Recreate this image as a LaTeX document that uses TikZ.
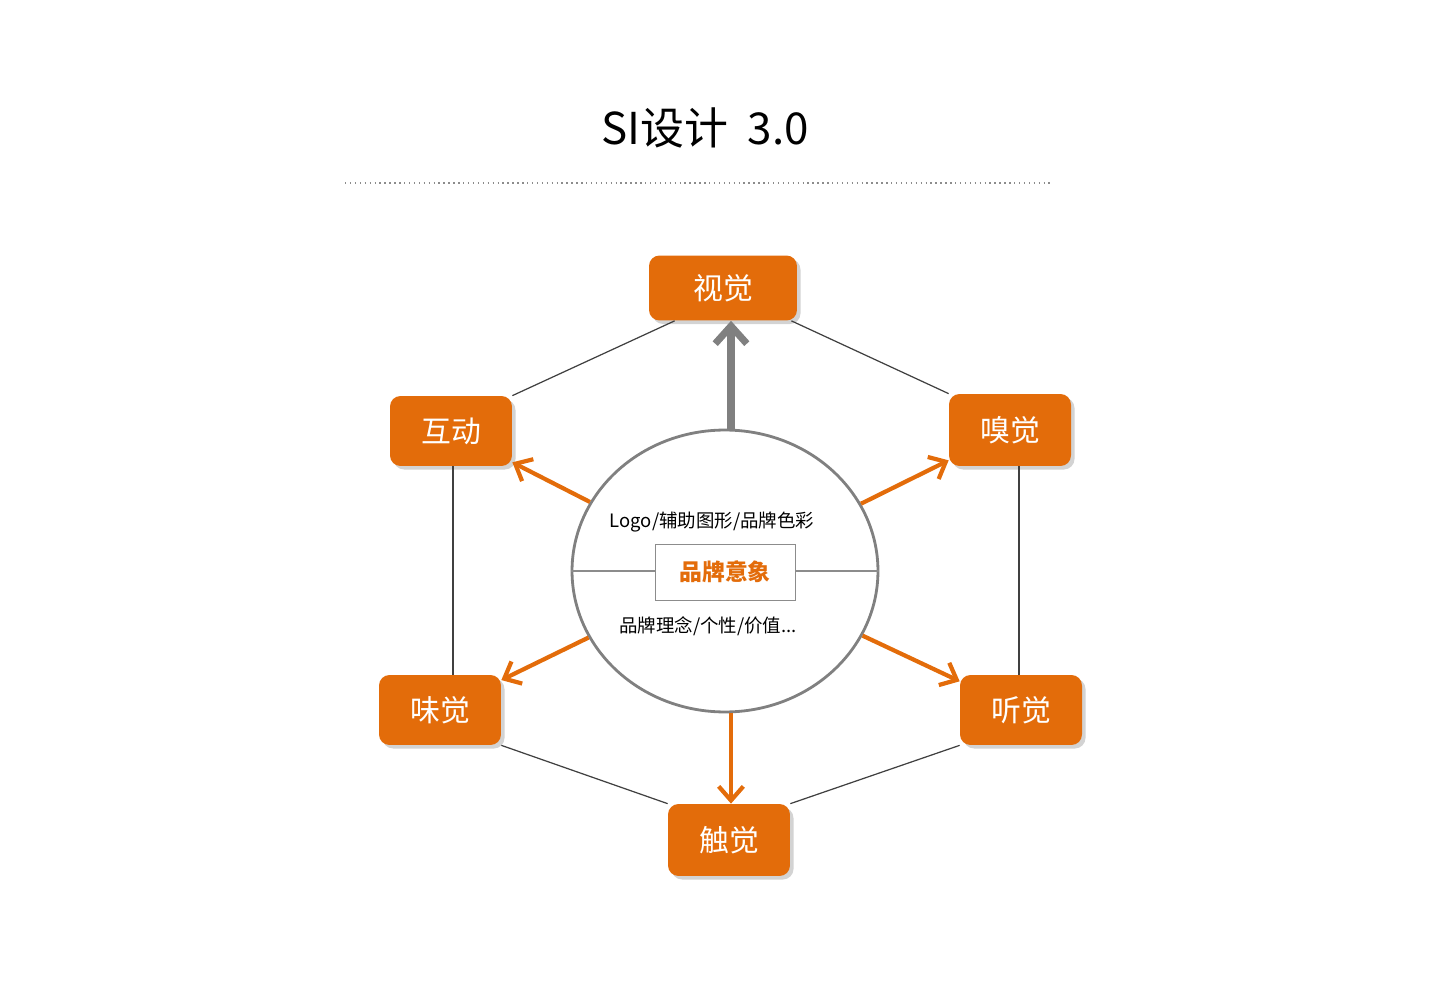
\documentclass[tikz,border=0pt]{standalone}
\usepackage{fontspec}
\setmainfont{Noto Sans CJK SC}
\usetikzlibrary{arrows.meta,shadows,shapes.geometric}
\definecolor{sense}{HTML}{E36C0A}
\definecolor{ring}{HTML}{808080}

\begin{document}
\begin{tikzpicture}[
  x=0.02cm, y=-0.02cm,
  sensebox/.style = {shape=rectangle, rounded corners=6pt, fill=sense, text=white,
                     font=\fontsize{17}{20}\selectfont, minimum height=1.3cm,
                     drop shadow={shadow xshift=2pt, shadow yshift=-2pt, opacity=.35}},
  hexline/.style = {draw=black!75, line width=0.7pt},
  outarrow/.style = {draw=sense, line width=2.4pt, -{Straight Barb[length=8pt,width=14pt]}}
]
  \useasboundingbox (0,0) rectangle (1440,996);
  % title
  \node (title) at (705,128) {\fontsize{25}{30}\selectfont SI设计\ \ 3.0};
  \draw[black!45, dotted, line width=0.8pt] (345,183) -- (1050,183);

  % centre
  \node (core) [ellipse, draw=ring, line width=1.6pt, minimum width=6.12cm, minimum height=5.64cm] at (725,571) {};
  \draw[black!45, line width=0.6pt] (core.west) -- (core.east);
  \node (image) [draw=black!45, fill=white, minimum width=2.8cm, minimum height=1.12cm, text=sense,
                 font=\fontsize{13}{16}\selectfont\bfseries] at (725,572) {品牌意象};
  \node (visual) at (712,522) {\fontsize{10.5}{12}\selectfont Logo/辅助图形/品牌色彩};
  \node (idea)   at (708,626) {\fontsize{10.5}{12}\selectfont 品牌理念/个性/价值...};

  % senses
  \node (sight) [sensebox, minimum width=2.96cm] at (723,288) {视觉};
  \node (inter) [sensebox, minimum width=2.44cm, minimum height=1.4cm] at (451,431) {互动};
  \node (smell) [sensebox, minimum width=2.44cm, minimum height=1.44cm] at (1010,430) {嗅觉};
  \node (taste) [sensebox, minimum width=2.44cm, minimum height=1.4cm] at (440,710) {味觉};
  \node (hear)  [sensebox, minimum width=2.44cm, minimum height=1.4cm] at (1021,710) {听觉};
  \node (touch) [sensebox, minimum width=2.44cm, minimum height=1.44cm] at (729,840) {触觉};

  % hexagon
  \draw[hexline] (sight.south west) ++(26,0) -- (inter.north east);
  \draw[hexline] (sight.south east) ++(-6,0) -- (smell.north west);
  \draw[hexline] (inter.south) ++(2,0) -- (taste.north -| 453,0);
  \draw[hexline] (smell.south) ++(9,0) -- (hear.north -| 1019,0);
  \draw[hexline] (taste.south east) -- (touch.north west);
  \draw[hexline] (hear.south west) -- (touch.north east);

  % arrows
  \draw[draw=ring, line width=4pt, -{Straight Barb[length=10pt,width=18pt]}] (core.north -| 731,0) -- (sight.south -| 731,0);
  \draw[outarrow] (core) -- (inter);
  \draw[outarrow] (core) -- (smell);
  \draw[outarrow] (core) -- (taste);
  \draw[outarrow] (core) -- (hear);
  \draw[outarrow] (core.south -| 731,0) -- (touch.north -| 731,0);
\end{tikzpicture}
\end{document}
